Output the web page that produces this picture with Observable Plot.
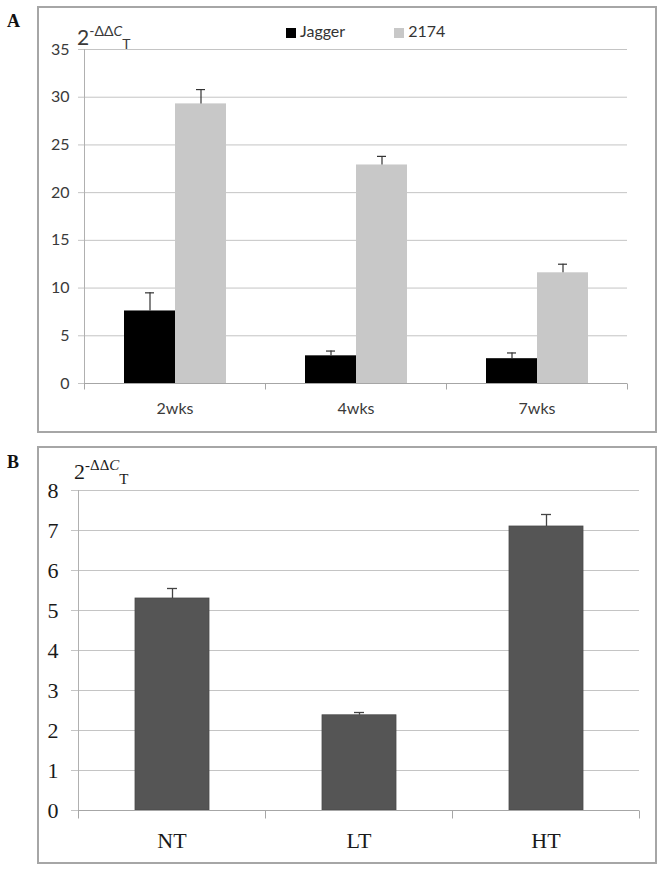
<!DOCTYPE html>
<html>
<head>
<meta charset="utf-8">
<script src="https://cdn.jsdelivr.net/npm/d3@7"></script>
<script src="https://cdn.jsdelivr.net/npm/@observablehq/plot@0.6"></script>
<style>
  html, body { margin: 0; padding: 0; background: #fff; }
  body { position: relative; width: 664px; height: 870px; overflow: hidden; }
  .frame { position: absolute; border: 2px solid #a6a6a6; box-sizing: border-box; background: #fff; }
  .frame svg { position: absolute; left: 0; top: 0; }
  .plabel { position: absolute; font: bold 18px "Liberation Serif", serif; color: #111; }
  .ylab { position: absolute; white-space: nowrap; line-height: 1; }
  .ylab .sup { position: relative; }
  .ylab .sub { position: relative; }
  .legend { position: absolute; font: 16px Lato, sans-serif; color: #333; white-space: nowrap; }
  .legend .sw { display: inline-block; width: 10px; height: 10px; vertical-align: -1px; margin-right: 4px; }
</style>
</head>
<body>
<div class="plabel" style="left:7px; top:11px;">A</div>
<div class="plabel" style="left:7px; top:452px;">B</div>
<div id="frameA" class="frame" style="left:37px; top:6px; width:620px; height:427px;"></div>
<div id="frameB" class="frame" style="left:37px; top:446px; width:620px; height:418px;"></div>
<div id="legendA" class="legend" style="left:286px; top:21px;"></div>
<script>
// ---------- Data: panel A ----------
const categoriesA = ["2wks", "4wks", "7wks"];
const seriesA = ["Jagger", "2174"];
const meanJagger = [7.6, 2.9, 2.6];
const errJagger = [1.9, 0.5, 0.6];
const mean2174 = [29.3, 22.9, 11.6];
const err2174 = [1.5, 0.9, 0.9];
const ticksA = [0, 5, 10, 15, 20, 25, 30, 35];
const coloursA = ["#000000", "#c8c8c8"];

// ---------- Data: panel B ----------
const categoriesB = ["NT", "LT", "HT"];
const meanB = [5.3, 2.38, 7.1];
const errB = [0.25, 0.07, 0.3];
const ticksB = [0, 1, 2, 3, 4, 5, 6, 7, 8];
const colourB = "#555555";

const rowsA = [];
categoriesA.forEach((c, i) => {
  rowsA.push({cat: c, series: seriesA[0], mean: meanJagger[i], err: errJagger[i]});
  rowsA.push({cat: c, series: seriesA[1], mean: mean2174[i], err: err2174[i]});
});
const rowsB = categoriesB.map((c, i) => ({cat: c, measure: "expression", mean: meanB[i], err: errB[i]}));

// custom symbol: a short vertical tick going downward from the anchor point
const downTick = {
  draw(context, size) {
    const l = Math.sqrt(size / Math.PI);
    context.moveTo(0, 0);
    context.lineTo(0, l);
  }
};

// ---------- Panel A ----------
const plotA = Plot.plot({
  width: 616, height: 423,
  marginLeft: 44, marginRight: 27, marginTop: 41, marginBottom: 48,
  style: {fontFamily: "Lato, sans-serif", fontSize: "16px", color: "#3a3a3a", background: "transparent", overflow: "visible"},
  fx: {domain: categoriesA, padding: 0, label: null},
  x: {domain: seriesA, paddingInner: 0, paddingOuter: 0.75, axis: null},
  y: {domain: [0, 35], ticks: ticksA, label: null},
  color: {domain: seriesA, range: coloursA},
  marks: [
    Plot.gridY(ticksA, {stroke: "#c4c4c4", strokeOpacity: 1}),
    Plot.axisY(ticksA, {tickSize: 6, tickPadding: 9, stroke: "#c4c4c4", fill: "#3a3a3a", label: null}),
    Plot.axisFx({anchor: "bottom", tickSize: 0, tickPadding: 19, label: null, fill: "#3a3a3a"}),
    Plot.frame({anchor: "left", facetAnchor: "left", stroke: "#b0b0b0"}),
    Plot.dot(categoriesA, {fx: d => d, frameAnchor: "bottom-left", symbol: downTick, r: 6, stroke: "#a6a6a6", fill: "none", strokeWidth: 1}),
    Plot.dot([categoriesA[categoriesA.length - 1]], {fx: d => d, frameAnchor: "bottom-right", symbol: downTick, r: 6, stroke: "#a6a6a6", fill: "none", strokeWidth: 1}),
    Plot.barY(rowsA, {fx: "cat", x: "series", y: "mean", fill: "series"}),
    Plot.ruleY([0], {stroke: "#a6a6a6"}),
    Plot.ruleX(rowsA, {fx: "cat", x: "series", y1: "mean", y2: d => d.mean + d.err, stroke: "#333", strokeWidth: 1.2}),
    Plot.tickY(rowsA, {fx: "cat", x: "series", y: d => d.mean + d.err, insetLeft: 21, insetRight: 21, stroke: "#333", strokeWidth: 1.2})
  ]
});
document.getElementById("frameA").appendChild(plotA);

// y label A
const ylA = document.createElement("div");
ylA.className = "ylab";
ylA.style.cssText = "left:38px; top:18px; font-family: Lato, sans-serif; font-size:21px; color:#3a3a3a;";
ylA.innerHTML = '2<span class="sup" style="font-size:14px; top:-9px;">-\u0394\u0394<i>C</i></span><span class="sub" style="font-size:14px; top:4px;">T</span>';
document.getElementById("frameA").appendChild(ylA);

// legend A
const leg = document.getElementById("legendA");
seriesA.forEach((s, i) => {
  const item = document.createElement("span");
  item.style.marginRight = i === 0 ? "49px" : "0";
  item.innerHTML = `<span class="sw" style="background:${coloursA[i]}"></span>${s}`;
  leg.appendChild(item);
});

// ---------- Panel B ----------
const plotB = Plot.plot({
  width: 616, height: 414,
  marginLeft: 38, marginRight: 15, marginTop: 42, marginBottom: 52,
  style: {fontFamily: "'Liberation Serif', serif", fontSize: "22px", color: "#1a1a1a", background: "transparent", overflow: "visible"},
  fx: {domain: categoriesB, padding: 0, label: null},
  x: {domain: ["expression"], paddingInner: 0, paddingOuter: 0.75, axis: null},
  y: {domain: [0, 8], ticks: ticksB, label: null},
  marks: [
    Plot.gridY(ticksB, {stroke: "#c4c4c4", strokeOpacity: 1}),
    Plot.axisY(ticksB, {tickSize: 7, tickPadding: 13, stroke: "#c4c4c4", fill: "#1a1a1a", label: null}),
    Plot.axisFx({anchor: "bottom", tickSize: 0, tickPadding: 22, label: null, fill: "#1a1a1a"}),
    Plot.frame({anchor: "left", facetAnchor: "left", stroke: "#b0b0b0"}),
    Plot.dot(categoriesB, {fx: d => d, frameAnchor: "bottom-left", symbol: downTick, r: 8, stroke: "#a6a6a6", fill: "none", strokeWidth: 1}),
    Plot.dot([categoriesB[categoriesB.length - 1]], {fx: d => d, frameAnchor: "bottom-right", symbol: downTick, r: 8, stroke: "#a6a6a6", fill: "none", strokeWidth: 1}),
    Plot.barY(rowsB, {fx: "cat", x: "measure", y: "mean", fill: colourB, stroke: "#4a4a4a", strokeWidth: 0.8}),
    Plot.ruleY([0], {stroke: "#a6a6a6"}),
    Plot.ruleX(rowsB, {fx: "cat", x: "measure", y1: "mean", y2: d => d.mean + d.err, stroke: "#444", strokeWidth: 1.3}),
    Plot.tickY(rowsB, {fx: "cat", x: "measure", y: d => d.mean + d.err, insetLeft: 32, insetRight: 32, stroke: "#444", strokeWidth: 1.3})
  ]
});
document.getElementById("frameB").appendChild(plotB);

const ylB = document.createElement("div");
ylB.className = "ylab";
ylB.style.cssText = "left:35px; top:13px; font-family: 'Liberation Serif', serif; font-size:22px; color:#1a1a1a;";
ylB.innerHTML = '2<span class="sup" style="font-size:15px; top:-9px;">-\u0394\u0394<i>C</i></span><span class="sub" style="font-size:15px; top:5px;">T</span>';
document.getElementById("frameB").appendChild(ylB);
</script>
</body>
</html>
